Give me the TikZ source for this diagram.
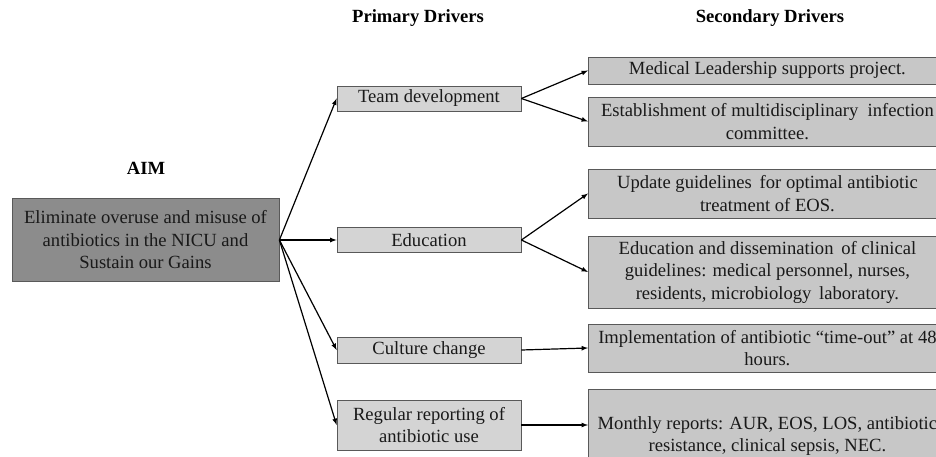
\documentclass[tikz,border=0pt]{standalone}
\usepackage{fontspec}
\setmainfont{Liberation Serif}
\usepackage{xcolor}
\usetikzlibrary{arrows}

\begin{document}
\begin{tikzpicture}[x=1pt,y=-1pt,line width=1.2pt,>=latex,
      font=\fontsize{18.6}{22.5}\selectfont,
      box/.style = {draw=black!65, line width=0.8pt, text=black!90, align=center, inner sep=0pt},
      aim/.style = {box, fill=black!45, minimum width=267pt, minimum height=83pt},
      prim/.style = {box, fill=black!17, minimum width=184pt},
      sec/.style = {box, fill=black!22, anchor=west, minimum width=358pt},
      head/.style = {font=\fontsize{18.6}{22.5}\selectfont\bfseries}]
      \clip[use as bounding box] (0,0) rectangle (936,457);

      \node[head] at (418, 18)(h1){Primary Drivers};
      \node[head] at (770, 18)(h2){Secondary Drivers};
      \node[head] at (146, 168)(h0){AIM};

      \node[aim] at (145.5, 240)(aim){Eliminate overuse and misuse of\\antibiotics in the NICU and\\Sustain our Gains};

      \node[prim, minimum height=25pt] at (429, 98.5)(team){Team development};
      \node[prim, minimum height=25pt] at (429, 240)(edu){Education};
      \node[prim, minimum height=26pt] at (429, 350)(culture){Culture change};
      \node[prim, minimum height=50pt] at (429, 425)(report){Regular reporting of\\antibiotic use};

      \node[sec, minimum height=27pt] at (588, 70.5)(lead){Medical Leadership supports project.};
      \node[sec, minimum height=49pt] at (588, 121.5)(committee){Establishment of multidisciplinary\ \ infection\\committee.};
      \node[sec, minimum height=49pt] at (588, 193.5)(guide){Update guidelines\ \,for optimal antibiotic\\treatment of EOS.};
      \node[sec, minimum height=72pt] at (588, 272)(dissem){Education and dissemination\ \,of clinical\\guidelines: medical personnel, nurses,\\residents, microbiology\ \,laboratory.};
      \node[sec, minimum height=48pt] at (588, 348)(timeout){Implementation of antibiotic ``time-out'' at 48\\hours.};
      \node[sec, minimum height=94pt] at (588, 436)(monthly){Monthly reports: AUR, EOS, LOS, antibiotic\\resistance, clinical sepsis, NEC.};

      \path[->]
      (aim.east) edge (team.west)
      (aim.east) edge (edu.west)
      (aim.east) edge (culture.west)
      (aim.east) edge (report.west)

      (team.east) edge (lead.west)
      (team.east) edge (committee.west)
      (edu.east) edge (guide.west)
      (edu.east) edge (dissem.west)
      (culture.east) edge (timeout.west)
      (report.east) edge (monthly.west |- report.east)
      ;

    \end{tikzpicture}
\end{document}
